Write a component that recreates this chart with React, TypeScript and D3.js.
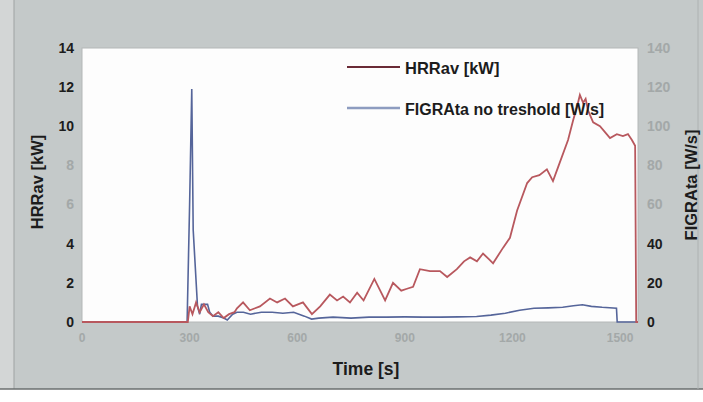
import React from "react";
import * as d3 from "d3";

// HRRav [kW] over time [s]
const hrrTime = [0, 295, 300, 308, 318, 328, 340, 352, 365, 380, 395, 410, 425, 432, 449, 468, 496, 524, 544, 566, 588, 616, 641, 664, 691, 711, 728, 747, 767, 785, 815, 845, 867, 890, 906, 923, 942, 970, 998, 1018, 1045, 1065, 1082, 1101, 1118, 1135, 1146, 1174, 1193, 1213, 1241, 1255, 1275, 1296, 1313, 1327, 1355, 1369, 1380, 1388, 1397, 1404, 1411, 1425, 1444, 1458, 1472, 1491, 1508, 1522, 1533, 1542, 1545, 1550];
const hrrValue = [0, 0, 0.8, 0.4, 1.0, 0.5, 0.9, 0.5, 0.3, 0.5, 0.2, 0.4, 0.5, 0.7, 1.0, 0.6, 0.8, 1.2, 1.0, 1.2, 0.8, 1.0, 0.4, 0.8, 1.4, 1.1, 1.3, 1.0, 1.5, 1.1, 2.2, 1.1, 2.0, 1.6, 1.7, 1.8, 2.7, 2.6, 2.6, 2.3, 2.7, 3.1, 3.3, 3.1, 3.5, 3.2, 3.0, 3.8, 4.3, 5.7, 7.1, 7.4, 7.5, 7.8, 7.2, 7.9, 9.3, 10.3, 11.0, 11.6, 11.2, 11.4, 10.8, 10.2, 10.0, 9.7, 9.4, 9.6, 9.5, 9.6, 9.3, 9.0, 0, 0];

// FIGRAta no treshold [W/s]
const figraTime = [0, 293, 300, 306, 310, 322, 328, 333, 340, 350, 356, 365, 380, 395, 405, 420, 432, 450, 470, 500, 530, 560, 590, 620, 640, 660, 700, 750, 800, 850, 900, 950, 1000, 1050, 1100, 1140, 1180, 1220, 1260, 1300, 1340, 1370, 1395, 1420, 1450, 1490, 1492, 1545, 1550];
const figraValue = [0, 0, 60, 119, 47, 8, 4, 9, 9, 9, 5, 3, 3, 2, 1, 4, 5, 5, 4, 5, 5, 4.5, 5, 3, 1.5, 2, 2.5, 2, 2.5, 2.5, 2.6, 2.5, 2.5, 2.6, 2.8, 3.5, 4.5, 6, 7, 7.2, 7.5, 8.3, 8.8, 8, 7.5, 7, 0, 0, 0];

const xTicks = [0, 300, 600, 900, 1200, 1500];
const leftTicks = [0, 2, 4, 6, 8, 10, 12, 14];
const rightTicks = [0, 20, 40, 60, 80, 100, 120, 140];
// labels that came out faint in the scan
const fadedLeft = [6, 8];
const fadedRight = [60, 80, 100, 120, 140];

const W = 703;
const H = 402;
const plot = { left: 82, right: 638, top: 48, bottom: 322 };
const font = "'Liberation Sans', Arial, sans-serif";
const dark = "#1c1c1c";
const faint = "#a3a8a8";
const hrrColor = "#b8585e";
const figraColor = "#55659a";

export default function App() {
  const x = d3.scaleLinear().domain([0, 1550]).range([plot.left, plot.right]);
  const yL = d3.scaleLinear().domain([0, 14]).range([plot.bottom, plot.top]);
  const yR = d3.scaleLinear().domain([0, 140]).range([plot.bottom, plot.top]);

  const hrrPath = d3
    .line<number>()
    .x((_, i) => x(hrrTime[i]))
    .y(d => yL(d))(hrrValue);
  const figraPath = d3
    .line<number>()
    .x((_, i) => x(figraTime[i]))
    .y(d => yR(d))(figraValue);

  return (
    <div style={{ position: "absolute", left: 0, top: 0 }}>
      <svg width={W} height={H} style={{ display: "block" }}>
        <rect x={0} y={0} width={W} height={H} fill="#ffffff" />
        <rect x={0} y={0} width={W} height={389} fill="#c4c9c9" />
        <rect x={0} y={0} width={14} height={389} fill="#d3d6d6" />
        <line x1={14} x2={14} y1={0} y2={389} stroke="#9ea3a3" />
        <line x1={0} x2={W} y1={389} y2={389} stroke="#6a6e6e" strokeWidth={1.5} />
        <line x1={698} x2={698} y1={0} y2={389} stroke="#aeb2b2" />

        <rect
          x={plot.left}
          y={plot.top}
          width={plot.right - plot.left}
          height={plot.bottom - plot.top}
          fill="#fdfdfd"
          stroke="#b4b8b8"
        />

        {/* left axis */}
        {leftTicks.map(t => (
          <text
            key={"l" + t}
            x={74}
            y={yL(t)}
            dy="0.35em"
            textAnchor="end"
            fontFamily={font}
            fontWeight="bold"
            fontSize={14}
            fill={fadedLeft.includes(t) ? faint : dark}
          >
            {t}
          </text>
        ))}
        <text
          transform={`translate(37,${(plot.top + plot.bottom) / 2 - 3}) rotate(-90)`}
          textAnchor="middle"
          dy="0.35em"
          fontFamily={font}
          fontWeight="bold"
          fontSize={16.5}
          fill={dark}
        >
          HRRav [kW]
        </text>

        {/* right axis */}
        {rightTicks.map(t => (
          <text
            key={"r" + t}
            x={647}
            y={yR(t)}
            dy="0.35em"
            textAnchor="start"
            fontFamily={font}
            fontWeight="bold"
            fontSize={14}
            fill={fadedRight.includes(t) ? faint : dark}
          >
            {t}
          </text>
        ))}
        <text
          transform={`translate(691,${(plot.top + plot.bottom) / 2}) rotate(-90)`}
          textAnchor="middle"
          dy="0.35em"
          fontFamily={font}
          fontWeight="bold"
          fontSize={16.5}
          fill={dark}
        >
          FIGRAta [W/s]
        </text>

        {/* bottom axis */}
        {xTicks.map(t => (
          <text
            key={"x" + t}
            x={x(t)}
            y={338}
            dy="0.35em"
            textAnchor="middle"
            fontFamily={font}
            fontWeight="bold"
            fontSize={12}
            fill={faint}
          >
            {t}
          </text>
        ))}
        <text
          x={366}
          y={369}
          dy="0.35em"
          textAnchor="middle"
          fontFamily={font}
          fontWeight="bold"
          fontSize={17.5}
          fill={dark}
        >
          Time [s]
        </text>

        {/* series */}
        <path d={figraPath ?? ""} fill="none" stroke={figraColor} strokeWidth={1.6} />
        <path d={hrrPath ?? ""} fill="none" stroke={hrrColor} strokeWidth={1.8} />

        {/* legend */}
        <line x1={347} x2={400} y1={67} y2={67} stroke="#6a2a36" strokeWidth={2} />
        <text x={405} y={68} dy="0.35em" fontFamily={font} fontWeight="bold" fontSize={16.5} fill={dark}>
          HRRav [kW]
        </text>
        <line x1={347} x2={400} y1={108} y2={108} stroke="#8d9cc0" strokeWidth={2.5} />
        <text x={405} y={109} dy="0.35em" fontFamily={font} fontWeight="bold" fontSize={16} fill={dark}>
          FIGRAta no treshold [W/s]
        </text>
      </svg>
    </div>
  );
}
